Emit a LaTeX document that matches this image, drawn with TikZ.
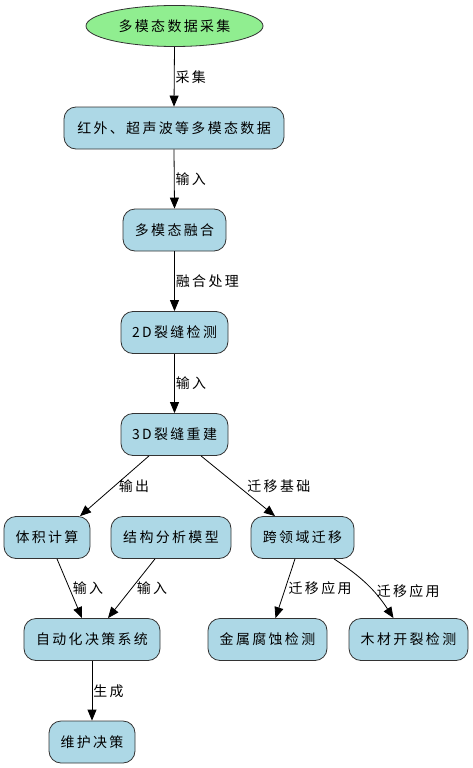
\documentclass[tikz,border=0pt]{standalone}
\usepackage{fontspec}
\usetikzlibrary{arrows.meta,shapes.geometric}
\newfontfamily\cjk{Noto Sans CJK SC}[LetterSpace=17]
\begin{document}
\begin{tikzpicture}[x=1bp,y=-1bp,
  box/.style={draw=black!80,line width=0.8bp,fill=lightblue,rounded corners=12bp,minimum height=42bp,inner sep=0pt,font=\cjk\fontsize{14}{16}\selectfont},
  oval/.style={ellipse,draw=black!80,line width=0.8bp,fill=lightgreen,minimum width=177bp,minimum height=41bp,inner sep=0pt,font=\cjk\fontsize{14}{16}\selectfont},
  conn/.style={draw=black,line width=0.8bp,-{Triangle[length=11bp,width=9bp]}},
  lbl/.style={anchor=west,inner sep=1bp,font=\cjk\fontsize{14}{16}\selectfont}]
\definecolor{lightblue}{HTML}{ADD8E6}
\definecolor{lightgreen}{HTML}{90EE90}
\useasboundingbox (0,0) rectangle (473,768);
\node[oval] (n0) at (174.5,26) {多模态数据采集};
\node[box,minimum width=220bp] (n1) at (174,128) {红外、超声波等多模态数据};
\node[box,minimum width=103bp] (n2) at (174.5,230) {多模态融合};
\node[box,minimum width=107bp] (n3) at (174.5,332.5) {2D裂缝检测};
\node[box,minimum width=107bp] (n4) at (174.5,434.5) {3D裂缝重建};
\node[box,minimum width=86bp] (n5) at (47,537.5) {体积计算};
\node[box,minimum width=120bp] (n6) at (171,537.5) {结构分析模型};
\node[box,minimum width=103bp] (n7) at (302.5,537.5) {跨领域迁移};
\node[box,minimum width=136bp] (n8) at (92,639.5) {自动化决策系统};
\node[box,minimum width=119bp] (n9) at (267.5,639.5) {金属腐蚀检测};
\node[box,minimum width=119bp] (n10) at (408.5,639.5) {木材开裂检测};
\node[box,minimum width=86bp] (n11) at (92,742) {维护决策};
\draw[conn] (n0.south) -- node[lbl]{采集} (n1.north);
\draw[conn] (n1.south) -- node[lbl]{输入} (n2.north);
\draw[conn] (n2.south) -- node[lbl]{融合处理} (n3.north);
\draw[conn] (n3.south) -- node[lbl]{输入} (n4.north);
\draw[conn] ([xshift=-25.5bp]n4.south) -- node[lbl,xshift=3bp]{输出} ([xshift=33bp]n5.north);
\draw[conn] ([xshift=26.5bp]n4.south) -- node[lbl,xshift=8bp]{迁移基础} ([xshift=-27.5bp]n7.north);
\draw[conn] ([xshift=10bp]n5.south) -- node[lbl,xshift=2bp]{输入} ([xshift=-10bp]n8.north);
\draw[conn] ([xshift=-16bp]n6.south) -- node[lbl,xshift=4bp]{输入} ([xshift=16bp]n8.north);
\draw[conn] ([xshift=-7.5bp]n7.south) -- node[lbl,xshift=2bp]{迁移应用} ([xshift=8bp]n9.north);
\draw[conn] ([xshift=31.5bp]n7.south) to[bend left=12] node[lbl,xshift=8bp,yshift=-6bp]{迁移应用} ([xshift=-15bp]n10.north);
\draw[conn] (n8.south) -- node[lbl]{生成} (n11.north);
\end{tikzpicture}
\end{document}
